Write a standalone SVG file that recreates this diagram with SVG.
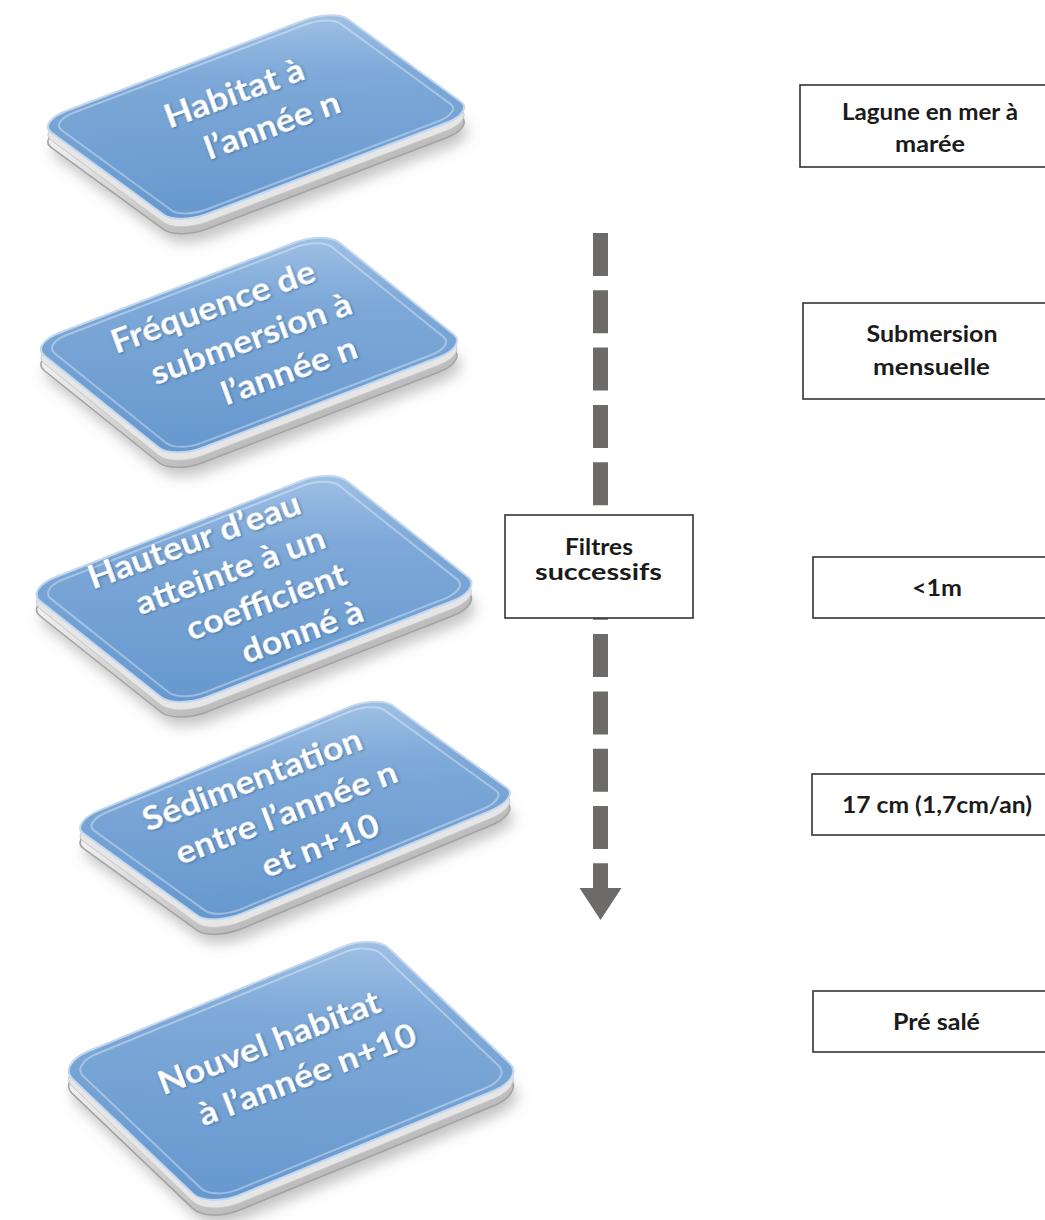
<svg xmlns="http://www.w3.org/2000/svg" width="1045" height="1220" viewBox="0 0 1045 1220">
<style>
.face{fill:url(#faceG);stroke:#c3d7ee;stroke-width:2;vector-effect:non-scaling-stroke}
.gloss{fill:none;stroke:#ffffff;stroke-opacity:.35;stroke-width:2;vector-effect:non-scaling-stroke}
.slab{fill:url(#slabG);stroke:#a3a3a3;stroke-width:1.5;vector-effect:non-scaling-stroke}
.slabf{fill:#e6e6e6;stroke:#c8c8c8;stroke-width:1;vector-effect:non-scaling-stroke}
.shadow{fill:#7a7a7a;opacity:.45}
.tt{font-family:Lato,"Open Sans","Liberation Sans",sans-serif;font-weight:700;font-size:32px;fill:#ffffff;text-anchor:middle;filter:url(#tsh)}
.box{fill:#ffffff;stroke:#333333;stroke-width:1.6}
.bt{font-family:Lato,"Open Sans","Liberation Sans",sans-serif;font-weight:700;font-size:22px;fill:#1b1b1b;text-anchor:middle}
.dash{fill:none;stroke:#6d6a6a;stroke-width:15;stroke-dasharray:43 14.3}
</style>
<defs>
<linearGradient id="faceG" x1="1" y1="0" x2="0" y2="1">
<stop offset="0" stop-color="#a2c2e6"/>
<stop offset="0.3" stop-color="#7ea9d8"/>
<stop offset="1" stop-color="#6597ce"/>
</linearGradient>
<linearGradient id="slabG" x1="0" y1="0" x2="0" y2="1">
<stop offset="0" stop-color="#f4f4f4"/>
<stop offset="1" stop-color="#bcbcbc"/>
</linearGradient>
<filter id="blur" x="-20%" y="-20%" width="140%" height="140%"><feGaussianBlur stdDeviation="7"/></filter>
<filter id="tsh" x="-10%" y="-30%" width="120%" height="160%"><feDropShadow dx="0.8" dy="1.2" stdDeviation="1.2" flood-color="#24466e" flood-opacity="0.55"/></filter>
<marker id="head" markerUnits="userSpaceOnUse" viewBox="0 -22 34 44" refX="0" refY="0" markerWidth="34" markerHeight="44" orient="auto">
<path d="M0,-21 L32,0 L0,21 Z" fill="#6d6a6a"/>
</marker>
</defs>
<rect width="1045" height="1220" fill="#ffffff"/>

<g id="connectors">
<line class="dash" x1="600.5" y1="233" x2="600.5" y2="888" marker-end="url(#head)"/>
</g>

<g id="tile1">
<g filter="url(#blur)"><rect class="shadow" width="100" height="100" rx="10" transform="translate(4,24) matrix(2.97,-1.13,1.41,1.03,37,122)"/></g>
<rect class="slab" width="100" height="100" rx="10" transform="translate(0,15) matrix(2.97,-1.13,1.41,1.03,37,122)"/>
<rect class="slabf" width="100" height="100" rx="10" transform="translate(0,8) matrix(2.97,-1.13,1.41,1.03,37,122)"/>
<rect class="face" width="100" height="100" rx="10" transform="matrix(2.97,-1.13,1.41,1.03,37,122)"/>
<rect class="gloss" x="3" y="3" width="94" height="94" rx="8" transform="matrix(2.97,-1.13,1.41,1.03,37,122)"/>
<text class="tt" transform="translate(234,92.5) rotate(-20) scale(1.12,1)" y="12">Habitat à</text>
<text class="tt" transform="translate(272,124.5) rotate(-20) scale(1.12,1)" y="12">l’année n</text>
</g>

<g id="tile2">
<g filter="url(#blur)"><rect class="shadow" width="100" height="100" rx="10" transform="translate(4,24) matrix(2.95,-1.13,1.43,1.15,30,344)"/></g>
<rect class="slab" width="100" height="100" rx="10" transform="translate(0,15) matrix(2.95,-1.13,1.43,1.15,30,344)"/>
<rect class="slabf" width="100" height="100" rx="10" transform="translate(0,8) matrix(2.95,-1.13,1.43,1.15,30,344)"/>
<rect class="face" width="100" height="100" rx="10" transform="matrix(2.95,-1.13,1.43,1.15,30,344)"/>
<rect class="gloss" x="3" y="3" width="94" height="94" rx="8" transform="matrix(2.95,-1.13,1.43,1.15,30,344)"/>
<text class="tt" transform="translate(213,306) rotate(-20) scale(1.12,1)" y="12">Fréquence de</text>
<text class="tt" transform="translate(251,338) rotate(-20) scale(1.12,1)" y="12">submersion à</text>
<text class="tt" transform="translate(289,370) rotate(-20) scale(1.12,1)" y="12">l’année n</text>
</g>

<g id="tile3">
<g filter="url(#blur)"><rect class="shadow" width="100" height="100" rx="10" transform="translate(4,24) matrix(3.07,-1.2,1.51,1.2,25,589)"/></g>
<rect class="slab" width="100" height="100" rx="10" transform="translate(0,15) matrix(3.07,-1.2,1.51,1.2,25,589)"/>
<rect class="slabf" width="100" height="100" rx="10" transform="translate(0,8) matrix(3.07,-1.2,1.51,1.2,25,589)"/>
<rect class="face" width="100" height="100" rx="10" transform="matrix(3.07,-1.2,1.51,1.2,25,589)"/>
<rect class="gloss" x="3" y="3" width="94" height="94" rx="8" transform="matrix(3.07,-1.2,1.51,1.2,25,589)"/>
<text class="tt" transform="translate(194,540) rotate(-20) scale(1.12,1)" y="12">Hauteur d’eau</text>
<text class="tt" transform="translate(230,570) rotate(-20) scale(1.12,1)" y="12">atteinte à un</text>
<text class="tt" transform="translate(266,601) rotate(-20) scale(1.12,1)" y="12">coefficient</text>
<text class="tt" transform="translate(302,631) rotate(-20) scale(1.12,1)" y="12">donné à</text>
</g>

<g id="tile4">
<g filter="url(#blur)"><rect class="shadow" width="100" height="100" rx="10" transform="translate(4,24) matrix(3.09,-1.28,1.43,1.03,69,823)"/></g>
<rect class="slab" width="100" height="100" rx="10" transform="translate(0,15) matrix(3.09,-1.28,1.43,1.03,69,823)"/>
<rect class="slabf" width="100" height="100" rx="10" transform="translate(0,8) matrix(3.09,-1.28,1.43,1.03,69,823)"/>
<rect class="face" width="100" height="100" rx="10" transform="matrix(3.09,-1.28,1.43,1.03,69,823)"/>
<rect class="gloss" x="3" y="3" width="94" height="94" rx="8" transform="matrix(3.09,-1.28,1.43,1.03,69,823)"/>
<text class="tt" transform="translate(252,779) rotate(-21) scale(1.12,1)" y="12">Sédimentation</text>
<text class="tt" transform="translate(286,812) rotate(-21) scale(1.12,1)" y="12">entre l’année n</text>
<text class="tt" transform="translate(320,845) rotate(-21) scale(1.12,1)" y="12">et n+10</text>
</g>

<g id="tile5">
<g filter="url(#blur)"><rect class="shadow" width="100" height="100" rx="10" transform="translate(4,24) matrix(3.17,-1.3,1.51,1.44,57,1064)"/></g>
<rect class="slab" width="100" height="100" rx="10" transform="translate(0,15) matrix(3.17,-1.3,1.51,1.44,57,1064)"/>
<rect class="slabf" width="100" height="100" rx="10" transform="translate(0,8) matrix(3.17,-1.3,1.51,1.44,57,1064)"/>
<rect class="face" width="100" height="100" rx="10" transform="matrix(3.17,-1.3,1.51,1.44,57,1064)"/>
<rect class="gloss" x="3" y="3" width="94" height="94" rx="8" transform="matrix(3.17,-1.3,1.51,1.44,57,1064)"/>
<text class="tt" transform="translate(269,1042) rotate(-21) scale(1.12,1)" y="12">Nouvel habitat</text>
<text class="tt" transform="translate(307,1074) rotate(-21) scale(1.12,1)" y="12">à l’année n+10</text>
</g>

<g id="filtres">
<rect class="box" x="505" y="515" width="188" height="103"/>
<text class="bt" x="599" y="555" textLength="68" lengthAdjust="spacingAndGlyphs">Filtres</text>
<text class="bt" x="598.5" y="580" textLength="127" lengthAdjust="spacingAndGlyphs">successifs</text>
</g>

<g id="box1">
<rect class="box" x="800" y="85" width="260" height="82"/>
<text class="bt" x="930" y="120" textLength="176" lengthAdjust="spacingAndGlyphs">Lagune en mer à</text>
<text class="bt" x="930" y="152" textLength="70" lengthAdjust="spacingAndGlyphs">marée</text>
</g>

<g id="box2">
<rect class="box" x="803" y="303" width="260" height="96"/>
<text class="bt" x="932" y="342" textLength="131" lengthAdjust="spacingAndGlyphs">Submersion</text>
<text class="bt" x="931.5" y="375" textLength="117" lengthAdjust="spacingAndGlyphs">mensuelle</text>
</g>

<g id="box3">
<rect class="box" x="813" y="557" width="250" height="61"/>
<text class="bt" x="937" y="596" textLength="50" lengthAdjust="spacingAndGlyphs">&lt;1m</text>
</g>

<g id="box4">
<rect class="box" x="812" y="774" width="250" height="61"/>
<text class="bt" x="937" y="813" textLength="190" lengthAdjust="spacingAndGlyphs">17 cm (1,7cm/an)</text>
</g>

<g id="box5">
<rect class="box" x="813" y="991" width="250" height="61"/>
<text class="bt" x="936.5" y="1030" textLength="87" lengthAdjust="spacingAndGlyphs">Pré salé</text>
</g>
</svg>
